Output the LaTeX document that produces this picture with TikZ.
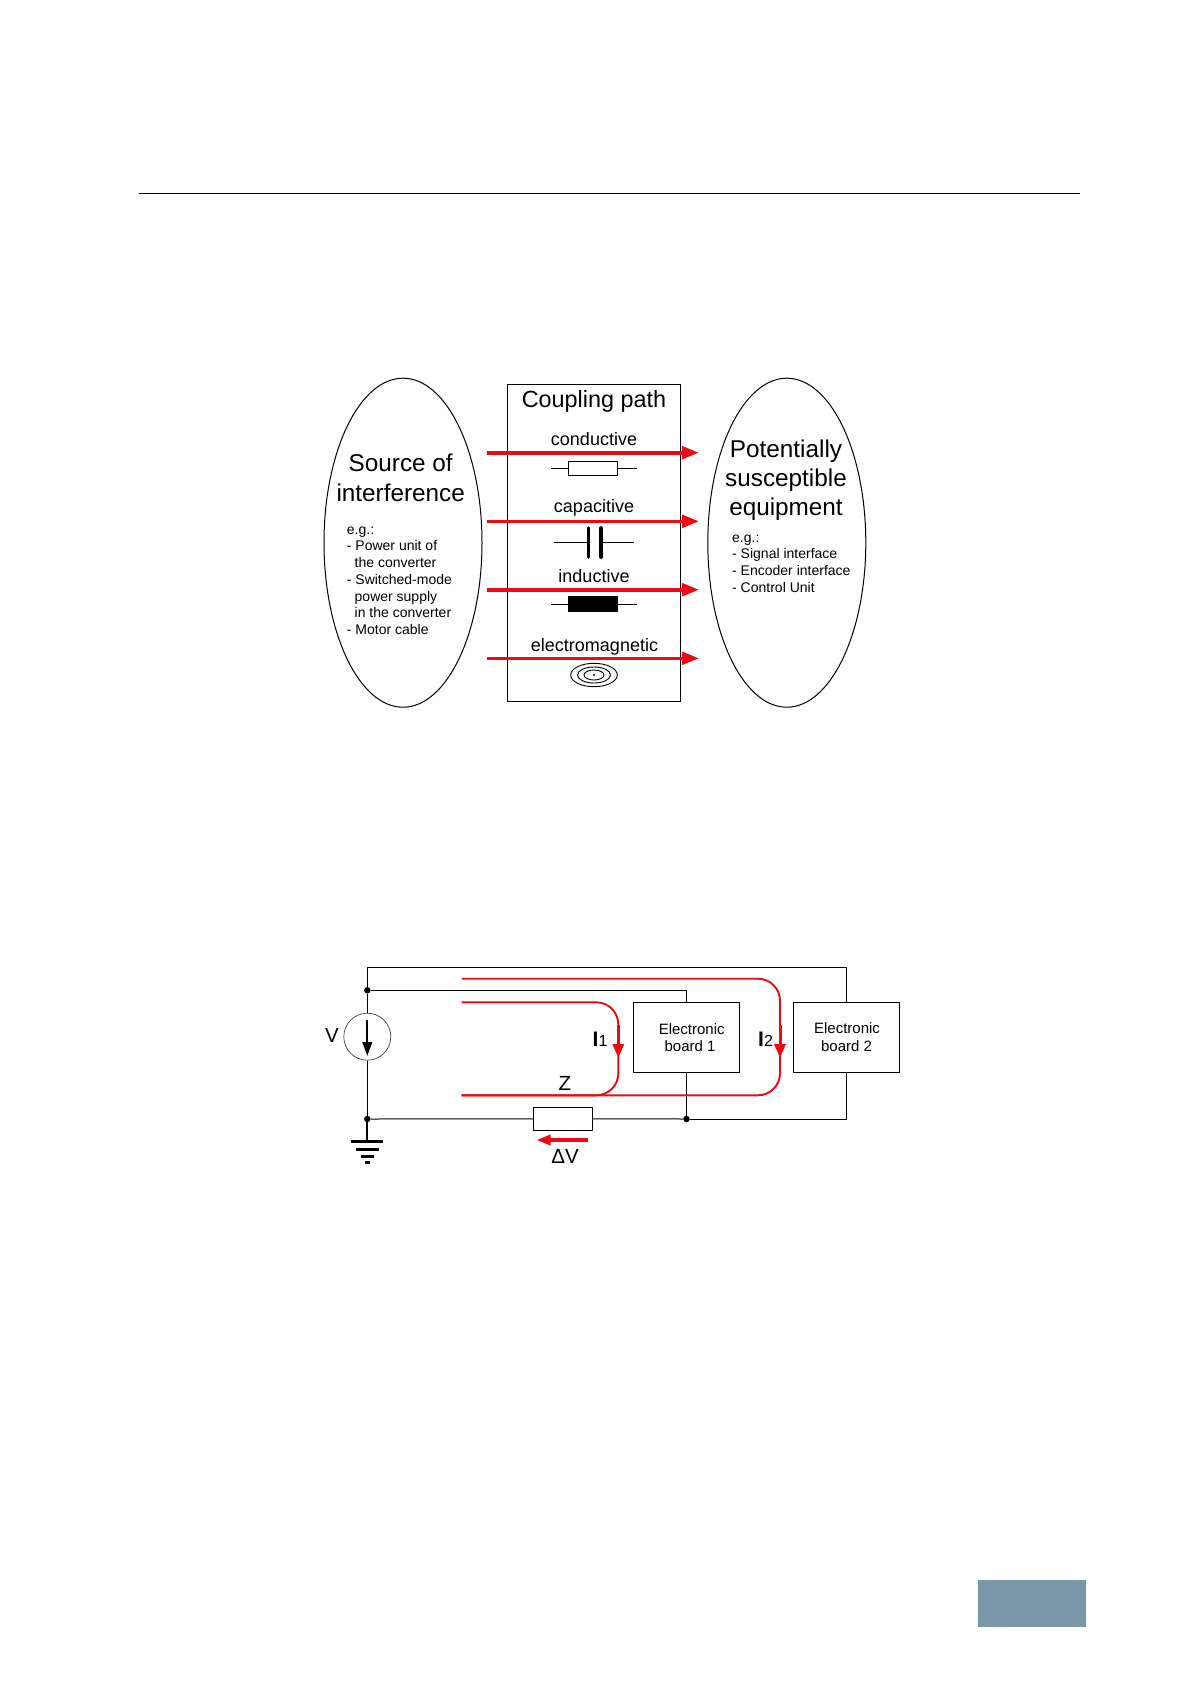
\documentclass[tikz,border=0pt]{standalone}
\usepackage{fontspec}
\setmainfont{Liberation Sans}
\usetikzlibrary{shapes.geometric,arrows.meta}
\definecolor{redline}{HTML}{EE0A14}
\definecolor{footbox}{HTML}{7A97A9}
\tikzset{
  wire/.style={draw=black,line width=1pt},
  oval/.style={shape=ellipse,draw=black,line width=1pt,inner sep=0pt,minimum width=158pt,minimum height=329pt},
  boxnode/.style={draw=black,line width=1pt,inner sep=0pt,fill=white},
  dotnode/.style={circle,fill=black,inner sep=0pt,minimum size=6.5pt},
  flow/.style={draw=redline,line width=3.6pt,-{Triangle[length=17pt,width=12.5pt]},shorten <=0pt},
  loopline/.style={draw=redline,line width=1.9pt,rounded corners=22pt},
  loophead/.style={draw=redline,line width=3pt,-{Triangle[length=14pt,width=11pt]}},
  big/.style={anchor=base,inner sep=0pt,font=\fontsize{24.3}{29}\selectfont},
  mid/.style={anchor=base,inner sep=0pt,font=\fontsize{18}{22}\selectfont},
  small/.style={anchor=base west,inner sep=0pt,font=\fontsize{14}{16.7}\selectfont},
  board/.style={anchor=base,inner sep=0pt,font=\fontsize{15}{18}\selectfont},
  label/.style={anchor=base,inner sep=0pt,font=\fontsize{20.5}{24}\selectfont},
}
\begin{document}
\begin{tikzpicture}[x=1pt,y=-1pt]
\useasboundingbox (0,0) rectangle (1190,1684);
% page furniture
\coordinate (ruleL) at (138.6,193.4);
\coordinate (ruleR) at (1080,193.4);
\draw[wire] (ruleL) -- (ruleR);
\fill[footbox] (977.5,1580) rectangle (1086,1627);

% upper diagram
\node[oval] (src) at (403,542.7) {};
\node[oval] (dst) at (786.8,542.7) {};
\node[boxnode,minimum width=172.7pt,minimum height=316.7pt] (path) at (594.3,542.7) {};

\node[big] (t1) at (400.7,471.7) {Source of};
\node[big] (t2) at (400.7,501) {interference};
\node[small] (s0) at (346.7,534) {e.g.:};
\node[small] (s1) at (346.7,550.7) {- Power unit of};
\node[small] (s2) at (354.5,567.7) {the converter};
\node[small] (s3) at (346.7,584.3) {- Switched-mode};
\node[small] (s4) at (354.5,601) {power supply};
\node[small] (s5) at (354.5,617.7) {in the converter};
\node[small] (s6) at (346.7,634.3) {- Motor cable};

\node[big] (r1) at (786,457.3) {Potentially};
\node[big] (r2) at (786,486) {susceptible};
\node[big] (r3) at (786,515) {equipment};
\node[small] (q0) at (732,542.3) {e.g.:};
\node[small] (q1) at (732,558.3) {- Signal interface};
\node[small] (q2) at (732,575.7) {- Encoder interface};
\node[small] (q3) at (732,592.3) {- Control Unit};

\node[anchor=base,inner sep=0pt,font=\fontsize{23.4}{28}\selectfont] (cp) at (594,407.3) {Coupling path};
\node[mid] (m1) at (594,445) {conductive};
\node[mid] (m2) at (594,512.3) {capacitive};
\node[mid] (m3) at (594,582.7) {inductive};
\node[mid] (m4) at (594.5,651.7) {electromagnetic};

% resistor symbol
\coordinate (ra) at (551,468.3);
\coordinate (rb) at (636.7,468.3);
\node[boxnode,minimum width=49pt,minimum height=14pt] (rs) at (592.8,468.3) {};
\draw[wire] (ra) -- (rs.west);
\draw[wire] (rs.east) -- (rb);
% capacitor symbol
\coordinate (ca) at (554,542.3);
\coordinate (cb) at (634.3,542.3);
\coordinate (c1t) at (588.3,528);
\coordinate (c1b) at (588.3,557);
\coordinate (c2t) at (601,528);
\coordinate (c2b) at (601,557);
\coordinate (c1m) at (588.3,542.3);
\coordinate (c2m) at (601,542.3);
\draw[wire] (ca) -- (c1m);
\draw[wire] (c2m) -- (cb);
\draw[line width=3.6pt,line cap=round] (c1t) -- (c1b);
\draw[line width=3.6pt,line cap=round] (c2t) -- (c2b);
% inductor symbol
\coordinate (ia) at (551,604.3);
\coordinate (ib) at (636.7,604.3);
\node[boxnode,fill=black,minimum width=49pt,minimum height=14.7pt] (is) at (592.8,604.3) {};
\draw[wire] (ia) -- (is.west);
\draw[wire] (is.east) -- (ib);
% electromagnetic symbol
\draw[line width=.9pt] (594,675) ellipse (23.3pt and 11.7pt);
\draw[line width=.9pt] (594,675) ellipse (16.5pt and 8pt);
\draw[line width=.9pt] (594,675) ellipse (10pt and 5pt);
\fill (594,675) circle (1.2pt);

% coupling arrows
\foreach \n/\yy in {1/452.7,2/521.3,3/589.7,4/658.3}{
  \coordinate (fa\n) at (487,\yy);
  \coordinate (fb\n) at (699,\yy);
  \draw[flow] (fa\n) -- (fb\n);
}

% lower diagram: junctions and components
\node[dotnode] (ja) at (367.3,990.3) {};
\node[dotnode] (jb) at (367.3,1119) {};
\node[boxnode,minimum width=106pt,minimum height=70pt] (b1) at (686.5,1037.3) {};
\node[boxnode,minimum width=106pt,minimum height=70pt] (b2) at (846.5,1037.3) {};
\node[circle,draw=black!75,line width=.7pt,inner sep=0pt,minimum size=47pt] (vs) at (367.3,1036.7) {};
\node[boxnode,minimum width=59.4pt,minimum height=23pt] (zr) at (563,1118.8) {};
\node[dotnode] (jc) at (b1.south |- jb) {};
\coordinate (topl) at (367.3,967.3);
\coordinate (topr) at (b2.north |- topl);
\coordinate (midr) at (b1.north |- ja);
\coordinate (botr) at (b2.south |- jb);

\draw[wire] (ja) -- (topl) -- (topr) -- (b2.north);
\draw[wire] (ja) -- (midr) -- (b1.north);
\draw[wire] (ja) -- (vs.north);
\draw[wire] (vs.south) -- (jb);
\draw[wire] (jb) -- (zr.west);
\draw[wire] (zr.east) -- (jc);
\draw[wire] (jc) -- (botr) -- (b2.south);
\draw[wire] (b1.south) -- (jc);

% source arrow
\coordinate (va) at (367.3,1020);
\coordinate (vb) at (367.3,1056);
\draw[line width=2.2pt,-{Triangle[length=14pt,width=9.5pt]}] (va) -- (vb);

% ground
\coordinate (g0) at (367.3,1141.7);
\coordinate (g1a) at (351.3,1141.7);
\coordinate (g1b) at (383.3,1141.7);
\coordinate (g2a) at (356,1149);
\coordinate (g2b) at (378.6,1149);
\coordinate (g3a) at (361,1156.4);
\coordinate (g3b) at (373.6,1156.4);
\coordinate (g4a) at (364.5,1162.7);
\coordinate (g4b) at (370.1,1162.7);
\draw[line width=2pt] (jb) -- (g0);
\draw[line width=3pt] (g1a) -- (g1b);
\draw[line width=3pt] (g2a) -- (g2b);
\draw[line width=2.4pt] (g3a) -- (g3b);
\draw[line width=3pt] (g4a) -- (g4b);

% current loops
\coordinate (l1a) at (461.7,1002.3);
\coordinate (l1b) at (618.3,1002.3);
\coordinate (l1c) at (618.3,1095.3);
\coordinate (l1d) at (461.7,1095.3);
\coordinate (l2a) at (461.7,978.7);
\coordinate (l2b) at (780,978.7);
\coordinate (l2c) at (780,1095.3);
\coordinate (l2d) at (461.7,1095.3);
\draw[loopline] (l2a) -- (l2b) -- (l2c) -- (l2d);
\draw[loopline] (l1a) -- (l1b) -- (l1c) -- (l1d);
\coordinate (h1a) at (618.3,1025);
\coordinate (h1b) at (618.3,1058);
\coordinate (h2a) at (780,1025);
\coordinate (h2b) at (780,1058);
\draw[loophead] (h1a) -- (h1b);
\draw[loophead] (h2a) -- (h2b);

% delta V arrow
\coordinate (da) at (588,1140);
\coordinate (db) at (536.5,1140);
\draw[draw=redline,line width=3.4pt,-{Triangle[length=14pt,width=10pt]}] (da) -- (db);

% labels
\node[board] (e1) at (691.7,1034) {Electronic};
\node[board] (e2) at (690,1051.7) {board 1};
\node[board] (e3) at (847,1033.3) {Electronic};
\node[board] (e4) at (846.5,1051) {board 2};
\node[label] (lv) at (332,1042.7) {V};
\node[label] (lz) at (565,1090.7) {Z};
\node[label] (ld) at (565,1163.3) {ΔV};
\node[anchor=base west,inner sep=0pt,font=\fontsize{16}{18}\selectfont] (li1) at (592.5,1046.7) {\textbf{\fontsize{21}{22}\selectfont I}1};
\node[anchor=base west,inner sep=0pt,font=\fontsize{16}{18}\selectfont] (li2) at (758,1046.7) {\textbf{\fontsize{21}{22}\selectfont I}2};
\end{tikzpicture}
\end{document}
